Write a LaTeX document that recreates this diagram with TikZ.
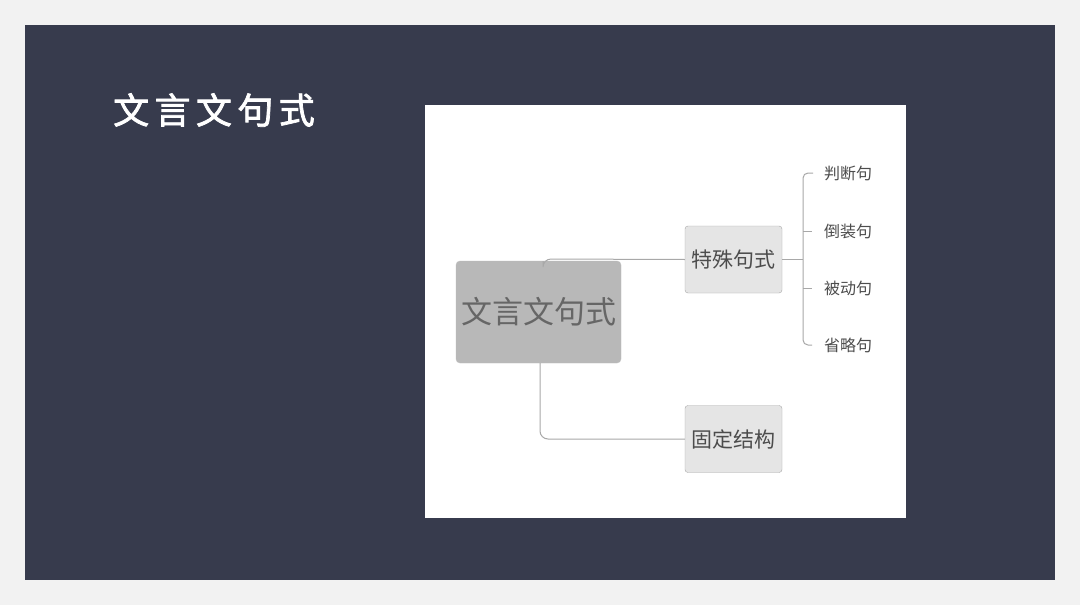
\documentclass[tikz,border=0pt]{standalone}
\usepackage{fontspec}
\newfontfamily\cjk{Noto Sans CJK SC}
\newfontfamily\cjkb{Noto Sans CJK SC}[FakeBold=2,LetterSpace=15]
\begin{document}
\begin{tikzpicture}[x=1pt,y=-1pt]
\definecolor{panel}{HTML}{373B4D}
\definecolor{ln}{HTML}{A8A8A8}
\tikzset{sub/.style={draw=ln,fill=black!10,rounded corners=3pt,minimum width=97pt,minimum height=67pt,font=\cjk\fontsize{21}{24}\selectfont,text=black!70,inner sep=0pt},
lab/.style={anchor=west,font=\cjk\fontsize{16}{18}\selectfont,text=black!70,inner sep=0pt},
con/.style={draw=ln,line width=1pt,rounded corners=8pt}}
\fill[black!5] (0,0) rectangle (1080,605);
\fill[panel] (25,25) rectangle (1055,580);
\node[anchor=west,text=white,font=\cjkb\fontsize{36}{40}\selectfont,inner sep=0pt] (title) at (113,110) {文言文句式};
\fill[white] (425,105) rectangle (906,518);
\node[draw=black!25,fill=black!28,rounded corners=4pt,minimum width=165pt,minimum height=102pt,inner sep=0pt,font=\cjk\fontsize{31}{34}\selectfont,text=black!60] (c) at (538.5,312) {文言文句式};
\node[sub] (a) at (733.5,259.5) {特殊句式};
\node[sub] (b) at (733.5,439) {固定结构};
\coordinate (ct) at (543,261);
\coordinate (cb) at (540,363);
\draw[con] (ct) -- (543,259) -- (a.west);
\draw[con] (cb) |- (b.west);
\coordinate (j) at (803,259.5);
\draw[draw=ln,line width=1pt] (a.east) -- (j);
\node[lab] (l1) at (824,173) {判断句};
\node[lab] (l2) at (824,231) {倒装句};
\node[lab] (l3) at (824,288) {被动句};
\node[lab] (l4) at (824,345) {省略句};
\draw[con,rounded corners=5pt] (l1.west)++(-11,0) -- (803,173) -- (803,345) -- ++(9,0);
\draw[draw=ln,line width=1pt] (803,231) -- (812,231) (803,288) -- (812,288);
\end{tikzpicture}
\end{document}
